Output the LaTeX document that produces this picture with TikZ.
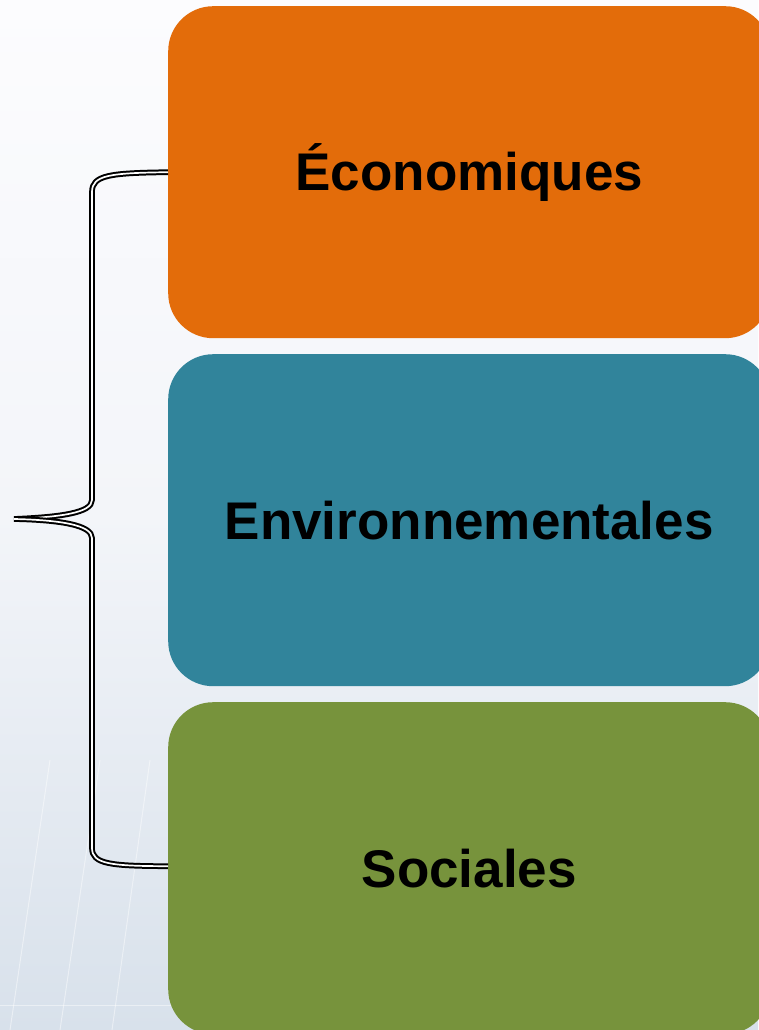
\documentclass[tikz,border=0pt]{standalone}
\usepackage{fontspec}
\setmainfont{Liberation Sans}
\definecolor{ecoC}{HTML}{E36C0A}
\definecolor{envC}{HTML}{31849B}
\definecolor{socC}{HTML}{77933C}
\definecolor{bgTop}{HTML}{FCFCFE}
\definecolor{bgMid}{HTML}{F3F5F9}
\definecolor{bgBot}{HTML}{D8E1EB}
\begin{document}
\begin{tikzpicture}[x=1pt,y=-1pt,
  pillar/.style={rounded corners=45pt, minimum width=602pt, minimum height=332pt,
    anchor=north west, inner sep=0pt, font=\fontsize{53}{60}\selectfont\bfseries, text=black},
  bracket/.style={draw=black, double=white, line width=2pt, double distance=1.7pt, line join=round}]
\useasboundingbox (0,0) rectangle (758,1030);
\shade[top color=bgTop, bottom color=bgBot, middle color=bgMid] (0,0) rectangle (758,1030);
% faint background grid lines
\begin{scope}[white, line width=1pt, opacity=0.45]
\draw (0,1005) -- (758,1005);
\draw (50,760) -- (10,1030);
\draw (100,760) -- (60,1030);
\draw (150,760) -- (112,1030);
\end{scope}
\node[pillar, fill=ecoC] (eco) at (168,6) {Économiques};
\node[pillar, fill=envC] (env) at (168,354) {Environnementales};
\node[pillar, fill=socC] (soc) at (168,702) {Sociales};
\coordinate (tip) at (14,519);
\draw[bracket] (eco.west) .. controls (110,173) and (92,175) .. (92,192)
  -- (92,500) .. controls (92,513) and (60,517) .. (tip);
\draw[bracket] (tip) .. controls (60,520) and (92,525) .. (92,538)
  -- (92,848) .. controls (92,864) and (110,866) .. ([yshift=2pt]soc.west);
\end{tikzpicture}
\end{document}
